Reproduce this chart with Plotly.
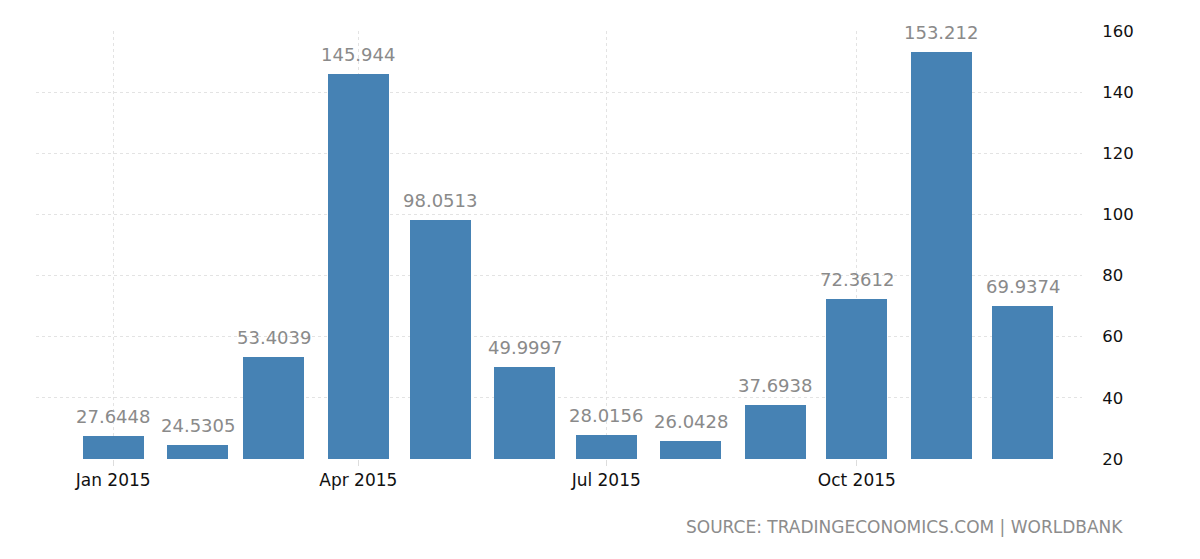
import plotly.graph_objects as go

months = ["2015-01-01", "2015-02-01", "2015-03-01", "2015-04-01", "2015-05-01", "2015-06-01",
          "2015-07-01", "2015-08-01", "2015-09-01", "2015-10-01", "2015-11-01", "2015-12-01"]
values = [27.6448, 24.5305, 53.4039, 145.944, 98.0513, 49.9997,
          28.0156, 26.0428, 37.6938, 72.3612, 153.212, 69.9374]
labels = ["27.6448", "24.5305", "53.4039", "145.944", "98.0513", "49.9997",
          "28.0156", "26.0428", "37.6938", "72.3612", "153.212", "69.9374"]
xtick_vals = ["2015-01-01", "2015-04-01", "2015-07-01", "2015-10-01"]
xtick_text = ["Jan 2015", "Apr 2015", "Jul 2015", "Oct 2015"]
ytick_vals = [20, 40, 60, 80, 100, 120, 140, 160]

DAY = 86400000

fig = go.Figure(go.Bar(
    x=months, y=values,
    width=[22.4 * DAY] * len(months),
    marker=dict(color="#4682b4", line=dict(width=0)),
))

label_annotations = [
    dict(x=m, y=v, text=t, xref="x", yref="y", showarrow=False,
         yanchor="bottom", xanchor="center", yshift=7,
         font=dict(family="DejaVu Sans", size=18, color="#8a8a8a"))
    for m, v, t in zip(months, values, labels)
]

fig.update_layout(
    width=1192, height=551,
    margin=dict(l=28, r=118, t=23, b=100, autoexpand=False),
    plot_bgcolor="white", paper_bgcolor="white",
    showlegend=False,
    font=dict(family="DejaVu Sans", size=16, color="#111111"),
    xaxis=dict(
        type="date",
        range=["2014-12-03 16:00", "2015-12-22 16:00"],
        tickvals=xtick_vals, ticktext=xtick_text,
        tickfont=dict(size=17),
        showgrid=True, gridcolor="#e3e3e3", griddash="dot", gridwidth=1,
        ticks="outside", ticklen=6, tickcolor="#dddddd",
        showline=False, zeroline=False, automargin=False,
    ),
    yaxis=dict(
        side="right", range=[20, 160], tickvals=ytick_vals,
        tickfont=dict(size=16.5),
        showgrid=True, gridcolor="#e3e3e3", griddash="dot", gridwidth=1,
        ticks="outside", ticklen=16, tickcolor="rgba(0,0,0,0)",
        showline=False, zeroline=False, automargin=False,
    ),
    annotations=label_annotations + [dict(
        text="SOURCE: TRADINGECONOMICS.COM | WORLDBANK",
        xref="paper", yref="paper", x=1.0411, y=-0.159,
        xanchor="right", yanchor="middle", showarrow=False,
        font=dict(family="DejaVu Sans", size=17, color="#8c8c8c"),
    )],
    bargap=0,
)

fig.write_html("out.html")
